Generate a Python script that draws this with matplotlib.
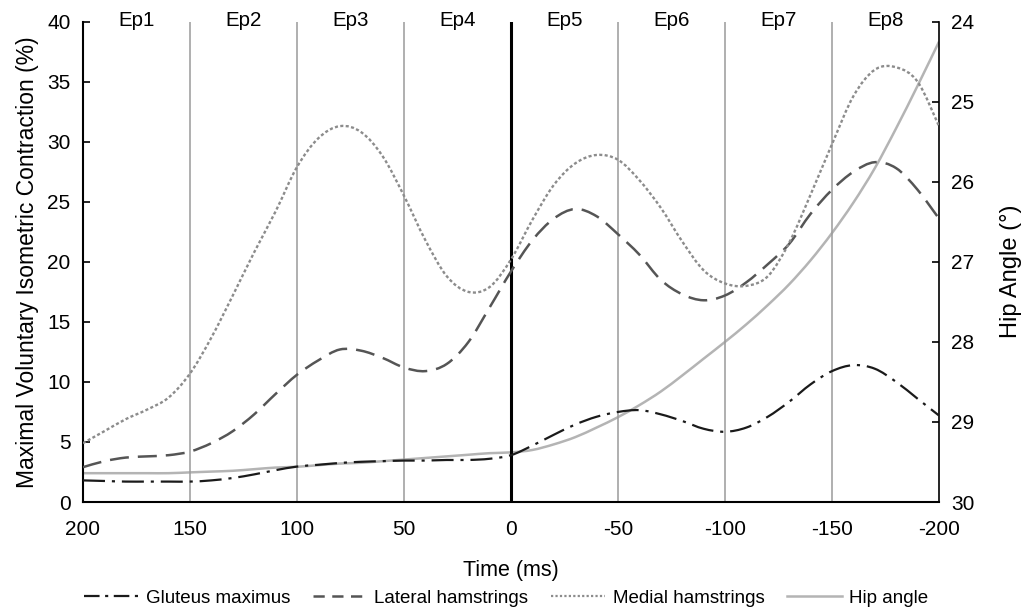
import matplotlib
matplotlib.use("Agg")
import matplotlib.pyplot as plt
from matplotlib.lines import Line2D
from matplotlib.path import Path
from matplotlib.patches import PathPatch

plt.rcParams["font.family"] = ["Liberation Sans", "DejaVu Sans"]

# --------------------------------------------------
# Data: EMG (% MVIC) and hip angle around the event at 0 ms
# --------------------------------------------------
time_ms = [200, 190, 180, 170, 160, 150, 140, 130, 120, 110,
           100, 90, 80, 70, 60, 50, 40, 30, 20, 10,
           0, -10, -20, -30, -40, -50, -60, -70, -80, -90,
           -100, -110, -120, -130, -140, -150, -160, -170, -180, -190,
           -200]

gluteus = [1.8, 1.75, 1.7, 1.7, 1.7, 1.7, 1.8, 2.0, 2.3, 2.65,
           2.95, 3.1, 3.25, 3.35, 3.4, 3.45, 3.45, 3.5, 3.5, 3.6,
           3.9, 4.7, 5.6, 6.45, 7.1, 7.5, 7.65, 7.3, 6.75, 6.1,
           5.85, 6.2, 7.1, 8.35, 9.8, 10.9, 11.4, 11.1, 10.0, 8.6,
           7.2]

lateral = [2.9, 3.4, 3.7, 3.8, 3.9, 4.2, 4.9, 5.9, 7.3, 9.0,
           10.6, 11.8, 12.7, 12.6, 12.0, 11.2, 10.9, 11.5, 13.3, 16.2,
           19.2, 21.8, 23.6, 24.4, 23.8, 22.3, 20.6, 18.5, 17.3, 16.8,
           17.2, 18.3, 19.8, 21.5, 24.0, 26.0, 27.5, 28.3, 27.8, 26.0,
           23.6]

medial = [4.9, 5.9, 6.9, 7.7, 8.7, 10.7, 13.7, 17.2, 20.8, 24.2,
          27.9, 30.3, 31.3, 30.8, 28.8, 25.5, 21.8, 18.8, 17.5, 17.9,
          20.2, 23.5, 26.4, 28.2, 28.9, 28.5, 26.8, 24.5, 21.7, 19.3,
          18.2, 18.0, 18.8, 21.6, 25.6, 29.8, 33.8, 36.0, 36.2, 35.0,
          31.3]

hip_angle = [29.64, 29.64, 29.64, 29.64, 29.64, 29.63, 29.62, 29.61, 29.59, 29.57,
             29.56, 29.54, 29.52, 29.51, 29.49, 29.47, 29.45, 29.43, 29.41, 29.39,
             29.38, 29.35, 29.28, 29.19, 29.07, 28.94, 28.79, 28.62, 28.42, 28.21,
             28.0, 27.78, 27.54, 27.28, 26.98, 26.64, 26.26, 25.83, 25.33, 24.8,
             24.25]

x_ticks = [200, 150, 100, 50, 0, -50, -100, -150, -200]
episode_bounds = [150, 100, 50, -50, -100, -150]
episode_centers = [175, 125, 75, 25, -25, -75, -125, -175]
episode_labels = ["Ep1", "Ep2", "Ep3", "Ep4", "Ep5", "Ep6", "Ep7", "Ep8"]


def smooth_line(axis, xs, ys, **style):
    # smoothed line through the points (Catmull-Rom segments as cubic Beziers)
    pts = list(zip(xs, ys))
    verts = [pts[0]]
    codes = [Path.MOVETO]
    n = len(pts)
    for i in range(n - 1):
        p0 = pts[max(i - 1, 0)]
        p1 = pts[i]
        p2 = pts[i + 1]
        p3 = pts[min(i + 2, n - 1)]
        c1 = (p1[0] + (p2[0] - p0[0]) / 6, p1[1] + (p2[1] - p0[1]) / 6)
        c2 = (p2[0] - (p3[0] - p1[0]) / 6, p2[1] - (p3[1] - p1[1]) / 6)
        verts += [c1, c2, p2]
        codes += [Path.CURVE4] * 3
    patch = PathPatch(Path(verts, codes), fill=False, edgecolor=style["color"],
                      linewidth=style["linewidth"], linestyle=style["linestyle"],
                      zorder=style.get("zorder", 3))
    axis.add_patch(patch)
    return patch


# --------------------------------------------------
# Styles
# --------------------------------------------------
glut_style = dict(color="#1a1a1a", linewidth=1.6, linestyle=(0, (9.9, 3.1, 1.4, 3.1)))
lat_style = dict(color="#555555", linewidth=1.8, linestyle=(0, (7.6, 3.6)))
med_style = dict(color="#8c8c8c", linewidth=1.7, linestyle=(0, (1.3, 1.0)))
hip_style = dict(color="#b4b4b4", linewidth=1.8, linestyle="-")

# --------------------------------------------------
# Figure
# --------------------------------------------------
fig = plt.figure(figsize=(10.34, 6.10), dpi=100)
ax = fig.add_axes([83 / 1034, 108 / 610, 856 / 1034, 480.3 / 610])

for b in episode_bounds:
    ax.axvline(b, color="#9a9a9a", linewidth=1.1, zorder=1)
ax.axvline(0, color="black", linewidth=2.2, zorder=1)

smooth_line(ax, time_ms, gluteus, **glut_style)
smooth_line(ax, time_ms, lateral, **lat_style)
smooth_line(ax, time_ms, medial, **med_style)

ax.set_xlim(200, -200)
ax.set_ylim(0, 40)
ax.set_xticks(x_ticks)
ax.set_xticklabels([str(t) for t in x_ticks])
ax.set_yticks(range(0, 41, 5))
ax.tick_params(axis="x", length=0, pad=13, labelsize=15)
ax.tick_params(axis="y", direction="in", length=5, width=1.2, pad=9, labelsize=15)

ax.spines["top"].set_visible(False)
ax.spines["right"].set_visible(False)
ax.spines["left"].set_linewidth(1.5)
ax.spines["bottom"].set_linewidth(1.5)

ax.set_ylabel("Maximal Voluntary Isometric Contraction (%)", fontsize=16.5, labelpad=6)
ax.set_xlabel("Time (ms)", fontsize=15.5, labelpad=15)

for xc, lab in zip(episode_centers, episode_labels):
    ax.text(xc, 40.1, lab, ha="center", va="center", fontsize=14.8, clip_on=False)

# Hip angle on the right, inverted scale
ax2 = ax.twinx()
ax2.set_ylim(30, 24)
smooth_line(ax2, time_ms, hip_angle, zorder=2, **hip_style)
ax2.set_yticks(range(24, 31))
ax2.tick_params(axis="y", direction="in", length=5, width=1.2, pad=9, labelsize=15)
for s in ["top", "left", "bottom"]:
    ax2.spines[s].set_visible(False)
ax2.spines["right"].set_linewidth(1.2)
ax2.set_ylabel("Hip Angle (°)", fontsize=17)
ax2.yaxis.set_label_coords(1.071, 0.48)

# keep the EMG traces above the hip angle line
ax.set_zorder(ax2.get_zorder() + 1)
ax.patch.set_visible(False)

handles = [
    Line2D([], [], color=glut_style["color"], linewidth=1.6, linestyle=(0, (7, 2.5, 1.4, 2.5))),
    Line2D([], [], color=lat_style["color"], linewidth=1.8, linestyle=(0, (4.5, 3))),
    Line2D([], [], color=med_style["color"], linewidth=1.6, linestyle=(0, (1.0, 1.0))),
    Line2D([], [], color=hip_style["color"], linewidth=1.8),
]
labels = ["Gluteus maximus", "Lateral hamstrings", "Medial hamstrings", "Hip angle"]
fig.legend(handles, labels, loc="center", bbox_to_anchor=(506 / 1034, 1 - 598 / 610),
           ncol=4, frameon=False, fontsize=13.5, handlelength=2.9,
           handletextpad=0.4, columnspacing=1.2)

fig.savefig("out.png", dpi=100)
